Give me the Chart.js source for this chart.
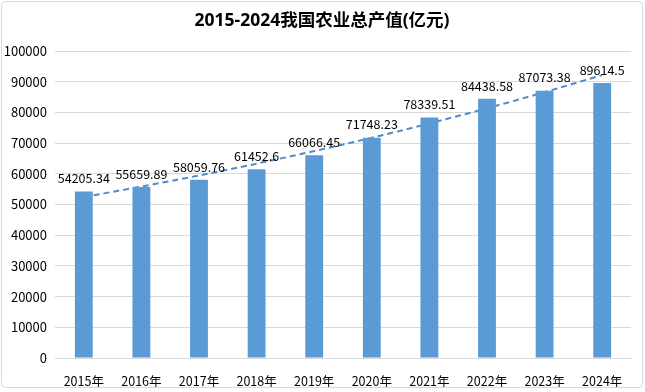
<!DOCTYPE html>
<html>
<head>
<meta charset="utf-8">
<script src="https://cdn.jsdelivr.net/npm/chart.js@4.4.1/dist/chart.umd.min.js"></script>
<style>
html,body{margin:0;padding:0;background:#fff;}
#wrap{width:645px;height:392px;position:relative;}
</style>
</head>
<body>
<div id="wrap"><canvas id="c" width="645" height="392"></canvas></div>
<script>
const categories = ['2015年','2016年','2017年','2018年','2019年','2020年','2021年','2022年','2023年','2024年'];
const values = [54205.34, 55659.89, 58059.76, 61452.6, 66066.45, 71748.23, 78339.51, 84438.58, 87073.38, 89614.5];
const valueLabels = ['54205.34','55659.89','58059.76','61452.6','66066.45','71748.23','78339.51','84438.58','87073.38','89614.5'];
// trendline values (curved trend line, drawn behind the bars)
const trend = [52450, 55850, 59450, 63300, 67400, 71750, 76400, 81350, 86600, 92150];
const title = '2015-2024我国农业总产值(亿元)';

const FONT = "'Liberation Sans Narrow', 'Noto Sans CJK SC', sans-serif";
const TITLE_FONT = "'Open Sans', 'Noto Sans CJK SC', sans-serif";

const framePlugin = {
  id: 'frame',
  beforeDraw(chart) {
    const ctx = chart.ctx;
    ctx.save();
    ctx.fillStyle = '#fff';
    ctx.fillRect(0, 0, chart.width, chart.height);
    ctx.strokeStyle = '#d9d9d9';
    ctx.lineWidth = 1;
    ctx.beginPath();
    ctx.roundRect(1.5, 1.5, 641, 386, 4);
    ctx.stroke();
    ctx.fillStyle = '#000';
    ctx.font = "bold 17.5px " + TITLE_FONT;
    ctx.textAlign = 'center';
    ctx.textBaseline = 'middle';
    ctx.fillText(title, 322, 21);
    ctx.restore();
  }
};

const labelPlugin = {
  id: 'barLabels',
  afterDatasetsDraw(chart) {
    const ctx = chart.ctx;
    const meta = chart.getDatasetMeta(1);
    ctx.save();
    ctx.fillStyle = '#000';
    ctx.font = "12.5px " + FONT;
    ctx.textAlign = 'center';
    ctx.textBaseline = 'middle';
    meta.data.forEach((bar, i) => {
      ctx.fillText(valueLabels[i], bar.x, bar.y - 13);
    });
    ctx.restore();
  }
};

new Chart(document.getElementById('c'), {
  type: 'bar',
  data: {
    labels: categories,
    datasets: [
      {
        type: 'line',
        data: trend,
        borderColor: '#4f8ccb',
        borderWidth: 2,
        borderDash: [6, 4],
        pointRadius: 0,
        cubicInterpolationMode: 'monotone',
        fill: false,
        order: 2
      },
      {
        type: 'bar',
        data: values,
        backgroundColor: '#5b9bd5',
        borderWidth: 0,
        categoryPercentage: 1,
        barPercentage: 0.31,
        order: 1
      }
    ]
  },
  options: {
    responsive: false,
    animation: false,
    devicePixelRatio: 1,
    layout: { padding: { top: 51, right: 14, bottom: 0, left: 0 } },
    plugins: { legend: { display: false }, tooltip: { enabled: false }, title: { display: false } },
    scales: {
      x: {
        grid: { display: false },
        border: { display: true, color: '#d9d9d9' },
        ticks: { color: '#000', font: { family: FONT, size: 12.5 }, padding: 8, maxRotation: 0 },
        afterFit(scale) { scale.height = 34; }
      },
      y: {
        min: 0, max: 100000,
        grid: { color: '#d9d9d9', drawTicks: false },
        border: { display: false },
        ticks: { stepSize: 10000, color: '#000', font: { family: FONT, size: 13 }, padding: 8,
                 callback: (v) => String(v) },
        afterFit(scale) { scale.width = 55; }
      }
    }
  },
  plugins: [framePlugin, labelPlugin]
});
</script>
</body>
</html>
